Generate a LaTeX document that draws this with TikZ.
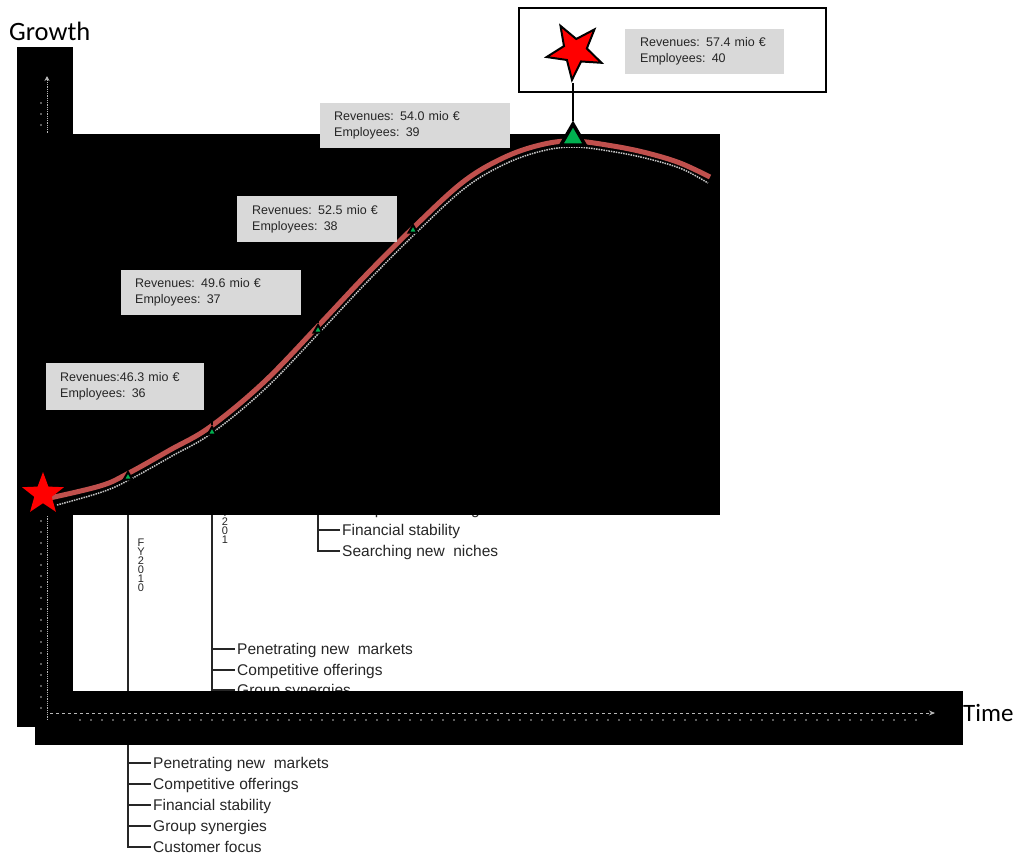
\documentclass[tikz,border=0pt]{standalone}
\usepackage{fontspec}
\setmainfont{Liberation Sans}
\newfontfamily\carlfont{Carlito}
\usetikzlibrary{shapes.geometric,arrows.meta}
\definecolor{curvered}{HTML}{C0504D}
\definecolor{tgreen}{HTML}{00B050}
\definecolor{boxgray}{HTML}{D9D9D9}
\begin{document}
\begin{tikzpicture}[x=1pt,y=-1pt,
  info/.style={rectangle, fill=boxgray, draw=none, align=left, anchor=north west,
    inner xsep=14pt, inner ysep=0pt, font=\fontsize{12.5}{16}\selectfont, text=black!85},
  item/.style={anchor=west, inner xsep=2pt, inner ysep=0pt, text height=12pt, text depth=2pt,
    font=\fontsize{15.5}{18}\selectfont, text=black!85},
  tline/.style={draw=black!85, line width=2pt},
  smalltri/.style={regular polygon, regular polygon sides=3, fill=tgreen, draw=black,
    line width=2pt, minimum size=10pt, inner sep=0pt},
  bigtri/.style={regular polygon, regular polygon sides=3, fill=tgreen, draw=black,
    line width=3.5pt, minimum size=28pt, inner sep=0pt},
  redstar/.style={star, star points=5, star point ratio=2.4, fill=red, inner sep=0pt},
  vlabel/.style={align=center, font=\fontsize{11}{9}\selectfont, inner sep=0pt, text=black!85},
  axisline/.style={draw=gray!55, line width=0.8pt},
  axisdot/.style={fill=gray!55}
]
\useasboundingbox (0,0) rectangle (1016,855);

% anchor points on the curve
\coordinate (p1) at (128,477);
\coordinate (p2) at (212,432);
\coordinate (p3) at (318,330);
\coordinate (p4) at (413,230);
\coordinate (p5) at (573,138);

% titles
\node[anchor=west, inner sep=0pt, font=\carlfont\fontsize{26.5}{28}\selectfont] (growth) at (9,31) {Growth};
\node[anchor=west, inner sep=0pt, font=\carlfont\fontsize{25}{28}\selectfont] (time) at (963,713) {Time};

% ---- lists (under the black blocks) ----
% FY2010 list
\node[item] (a1) at (151,763) {Penetrating new\ \ markets};
\node[item] (a2) at (151,784) {Competitive offerings};
\node[item] (a3) at (151,805) {Financial stability};
\node[item] (a4) at (151,826) {Group synergies};
\node[item] (a5) at (151,847) {Customer focus};
\draw[tline] (p1) |- (a5.west);
\foreach \i in {1,2,3,4} \draw[tline] (p1 |- a\i.west) -- (a\i.west);
\node[vlabel] (fy1) at (141,565) {F\\Y\\2\\0\\1\\0};

% FY2011 list
\node[item] (b1) at (235,649) {Penetrating new\ \ markets};
\node[item] (b2) at (235,670) {Competitive offerings};
\node[item] (b3) at (235,690) {Group synergies};
\coordinate (b4) at (212,705);
\draw[tline] (p2) -- (b4);
\foreach \i in {1,2,3} \draw[tline] (p2 |- b\i.west) -- (b\i.west);
\node[vlabel] (fy2) at (225,522) {F\\Y\\2\\0\\1};

% third list
\node[item] (c1) at (340,509) {Competitive offerings};
\node[item] (c2) at (340,530) {Financial stability};
\node[item] (c3) at (340,551) {Searching new\ \ niches};
\draw[tline] (p3) |- (c3.west);
\foreach \i in {1,2} \draw[tline] (p3 |- c\i.west) -- (c\i.west);

% ---- black blocks ----
\fill[black] (17,47) rectangle (73,727);
\fill[black] (35,691) rectangle (963,745);

% ---- faint axes ----
\draw[axisline, densely dotted, -{Stealth[length=5pt,width=5pt]}] (47,720) -- (47,76);
\foreach \y in {103,114,...,715} \fill[axisdot] (41,\y) circle (0.9);
\draw[axisline, dashed, -{Stealth[length=6pt,width=5pt]}] (50,713) -- (935,713);
\foreach \x in {80,91,...,925} \fill[axisdot] (\x,720) circle (0.8);

\fill[black] (17,134) rectangle (720,515);

% ---- growth curve ----
\draw[gray!45, densely dotted, line width=1.5pt, shift={(2,6)}]
  plot[smooth, tension=0.6] coordinates {(55,499) (100,486) (127,474) (170,450) (210,427) (263,383) (318,326) (366,275) (415,226) (463,182) (503,158) (540,145) (573,141) (613,146) (647,153) (680,163) (706,177)};
\draw[curvered, line width=5pt]
  plot[smooth, tension=0.6] coordinates {(45,499) (100,486) (127,474) (170,450) (210,427) (263,383) (318,326) (366,275) (415,226) (463,182) (503,158) (540,145) (573,141) (613,146) (647,153) (680,163) (710,177)};

\node[smalltri] (t1) at (p1) {};
\node[smalltri] (t2) at (p2) {};
\node[smalltri] (t3) at (p3) {};
\node[smalltri] (t4) at (p4) {};
\node[bigtri] (t5) at (p5) {};

\node[redstar, minimum size=44pt] (s0) at (43,494) {};

% ---- info boxes ----
\node[info, minimum width=158pt, minimum height=47pt, text width=130pt] (i1) at (46,363)
  {Revenues:46.3 mio €\\Employees: 36};
\node[info, minimum width=180pt, minimum height=45pt, text width=152pt] (i2) at (121,270)
  {Revenues: 49.6 mio €\\Employees: 37};
\node[info, minimum width=158pt, minimum height=46pt, text width=130pt, inner xsep=15pt] (i3) at (237,196)
  {Revenues: 52.5 mio €\\Employees: 38};
\node[info, minimum width=190pt, minimum height=45pt, text width=162pt] (i4) at (320,103)
  {Revenues: 54.0 mio €\\Employees: 39};

\draw[black, line width=1.5pt] (i1.south -| t1) -- (t1.corner 1);
\draw[black, line width=1.5pt] (i2.south -| t2) -- (t2.corner 1);
\draw[black, line width=1.5pt] (i3.south -| t3) -- (t3.corner 1);
\draw[black, line width=1.5pt] (i4.south -| t4) -- (t4.corner 1);

% ---- top summit box ----
\draw[black, line width=2pt] (519,8) rectangle (826,92);
\node[redstar, minimum size=58pt, draw=black, line width=2pt, shape border rotate=174] (s1) at (575,51) {};
\node[info, minimum width=159pt, minimum height=45pt, text width=129pt, inner xsep=15pt] (i5) at (625,29)
  {Revenues: 57.4 mio €\\Employees: 40};
\draw[black, line width=2pt] (t5.corner 1) -- (t5.corner 1 |- s1.outer point 1);
\end{tikzpicture}
\end{document}
